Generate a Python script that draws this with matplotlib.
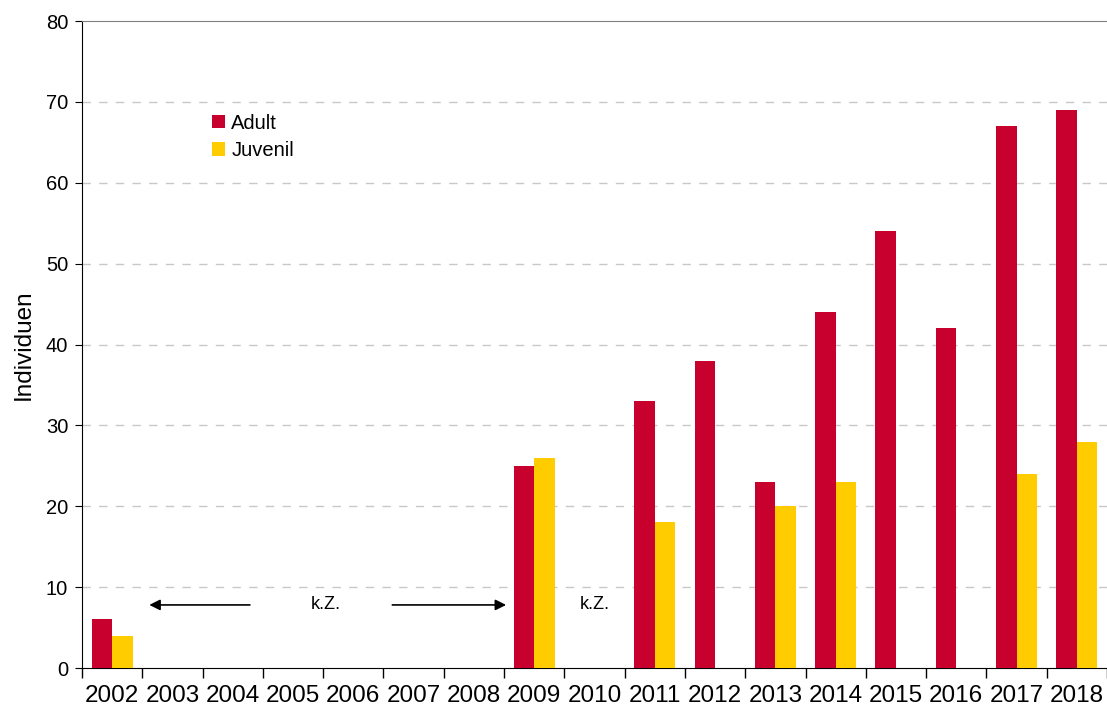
import numpy as np
import matplotlib.pyplot as plt

plt.rcParams["font.family"] = ["Liberation Sans", "DejaVu Sans"]

# Jahre und Zählungen (k.Z. = keine Zählung -> 0)
years = ["2002", "2003", "2004", "2005", "2006", "2007", "2008", "2009", "2010",
         "2011", "2012", "2013", "2014", "2015", "2016", "2017", "2018"]
adult = [6, 0, 0, 0, 0, 0, 0, 25, 0, 33, 38, 23, 44, 54, 42, 67, 69]
juvenil = [4, 0, 0, 0, 0, 0, 0, 26, 0, 18, 0, 20, 23, 0, 0, 24, 28]

RED = "#C8002D"
YELLOW = "#FFCC00"

fig = plt.figure(figsize=(11.07, 7.13), dpi=100)
ax = fig.add_axes([0.0741, 0.0631, 0.9259, 0.9074])

x = np.arange(len(years))
w = 0.34
ax.bar(x - w / 2, adult, width=w, color=RED, label="Adult", zorder=3)
ax.bar(x + w / 2, juvenil, width=w, color=YELLOW, label="Juvenil", zorder=3)

ax.set_xlim(-0.5, len(years) - 0.5)
ax.set_ylim(0, 80)
ax.set_yticks(range(0, 81, 10))
ax.tick_params(axis="y", labelsize=14.5, length=5, direction="out", pad=5)

# Jahreslabels in der Mitte, Striche zwischen den Kategorien
ax.set_xticks(x)
ax.set_xticklabels(years, fontsize=17.5)
ax.tick_params(axis="x", which="major", length=0, pad=12)
ax.set_xticks(np.arange(-0.5, len(years) - 0.4, 1), minor=True)
ax.tick_params(axis="x", which="minor", length=7, width=1, color="black", direction="out")

for yv in range(10, 80, 10):
    ax.axhline(yv, color="#C8C8C8", lw=1, ls=(0, (6, 6)), zorder=1)

ax.spines["right"].set_visible(False)
ax.spines["top"].set_color("#808080")
ax.spines["left"].set_color("black")
ax.spines["bottom"].set_color("black")

ax.set_ylabel("Individuen", fontsize=17.5, labelpad=8)

# Hinweise auf fehlende Zählungen
ky = 7.8
ax.annotate("", xy=(0.57, ky), xytext=(2.33, ky),
            arrowprops=dict(arrowstyle="-|>", color="black", lw=1.2, mutation_scale=16))
ax.annotate("", xy=(6.58, ky), xytext=(4.6, ky),
            arrowprops=dict(arrowstyle="-|>", color="black", lw=1.2, mutation_scale=16))
ax.text(3.55, ky, "k.Z.", ha="center", va="center", fontsize=13)
ax.text(8.0, ky, "k.Z.", ha="center", va="center", fontsize=13)

ax.legend(loc="upper left", bbox_to_anchor=(0.119, 0.869), frameon=False,
          fontsize=14.5, handlelength=0.65, handleheight=0.65, handletextpad=0.3,
          labelspacing=0.4, borderaxespad=0)

fig.savefig("out.png", dpi=100)
